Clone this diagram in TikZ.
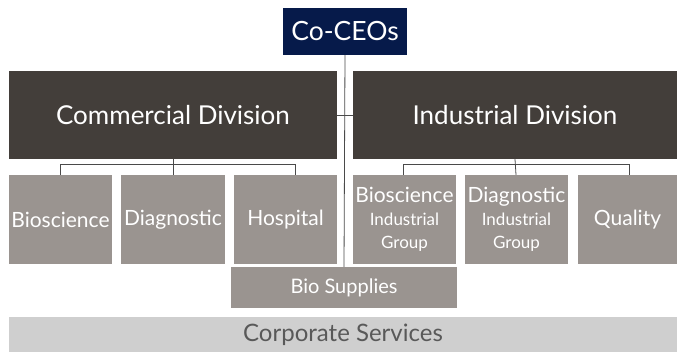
\documentclass[tikz,border=0pt]{standalone}
\usepackage{fontspec}
\setmainfont{Lato}
\definecolor{ceoblue}{HTML}{061A4A}
\definecolor{divgray}{HTML}{433E3A}
\definecolor{unitgray}{HTML}{9A9490}
\definecolor{corpgray}{HTML}{CFCFCF}
\definecolor{linegray}{HTML}{4A4A4A}
\newcommand\subline{\fontsize{17}{23}\selectfont}
\tikzset{
  ceobox/.style={fill=ceoblue, text=white, minimum width=124pt, minimum height=47pt, inner sep=0pt, font=\fontsize{26.5}{28}\selectfont},
  divbox/.style={fill=divgray, text=white, minimum height=88pt, inner sep=0pt, font=\fontsize{26}{28}\selectfont},
  unitbox/.style={fill=unitgray, text=white, minimum height=89pt, inner sep=0pt, align=center, font=\fontsize{21}{23}\selectfont},
  link/.style={draw=linegray, line width=0.8pt}
}
\begin{document}
\begin{tikzpicture}[x=1pt, y=-1pt]
    \useasboundingbox (0, 0) rectangle (677, 352);

    % Top
    \node[ceobox] (ceo) at (345, 31.5) {Co-CEOs};

    % Divisions
    \node[divbox, minimum width=328pt] (com) at (173, 115) {Commercial Division};
    \node[divbox, minimum width=324pt] (ind) at (515, 115) {Industrial Division};

    % Commercial units
    \node[unitbox, minimum width=103pt] (bio) at (60.5, 219.5) {Bioscience};
    \node[unitbox, minimum width=104pt] (diag) at (173, 219.5) {Diagnostic};
    \node[unitbox, minimum width=103pt] (hosp) at (285.5, 219.5) {Hospital};

    % Industrial units
    \node[unitbox, minimum width=103pt] (bioind) at (404.5, 219.5) {Bioscience\\{\subline Industrial}\\{\subline Group}};
    \node[unitbox, minimum width=103pt] (diagind) at (516.5, 219.5) {Diagnostic\\{\subline Industrial}\\{\subline Group}};
    \node[unitbox, minimum width=99pt] (qual) at (627.5, 219.5) {Quality};

    % Bottom boxes
    \node[fill=unitgray, text=white, minimum width=226pt, minimum height=41pt, inner sep=0pt, font=\fontsize{20}{22}\selectfont] (supp) at (344, 287.5) {Bio Supplies};
    \node[fill=corpgray, text=black!65, minimum width=668pt, minimum height=35pt, inner sep=0pt, font=\fontsize{24}{26}\selectfont] (corp) at (343, 334.5) {Corporate Services};

    % Lines
    \draw[link] (ceo.south) -- (supp.north);
    \draw[link] (com.east) -- (ind.west);
    \draw[link] (bio.north) -- ++(0, -10) -| ([xshift=10pt]hosp.north);
    \draw[link] (com.south) -- (diag.north);
    \draw[link] ([xshift=-1.5pt]bioind.north) -- ++(0, -10) -| ([xshift=1.5pt]qual.north);
    \draw[link] (ind.south) -- ([xshift=-0.5pt]diagind.north);
\end{tikzpicture}
\end{document}
